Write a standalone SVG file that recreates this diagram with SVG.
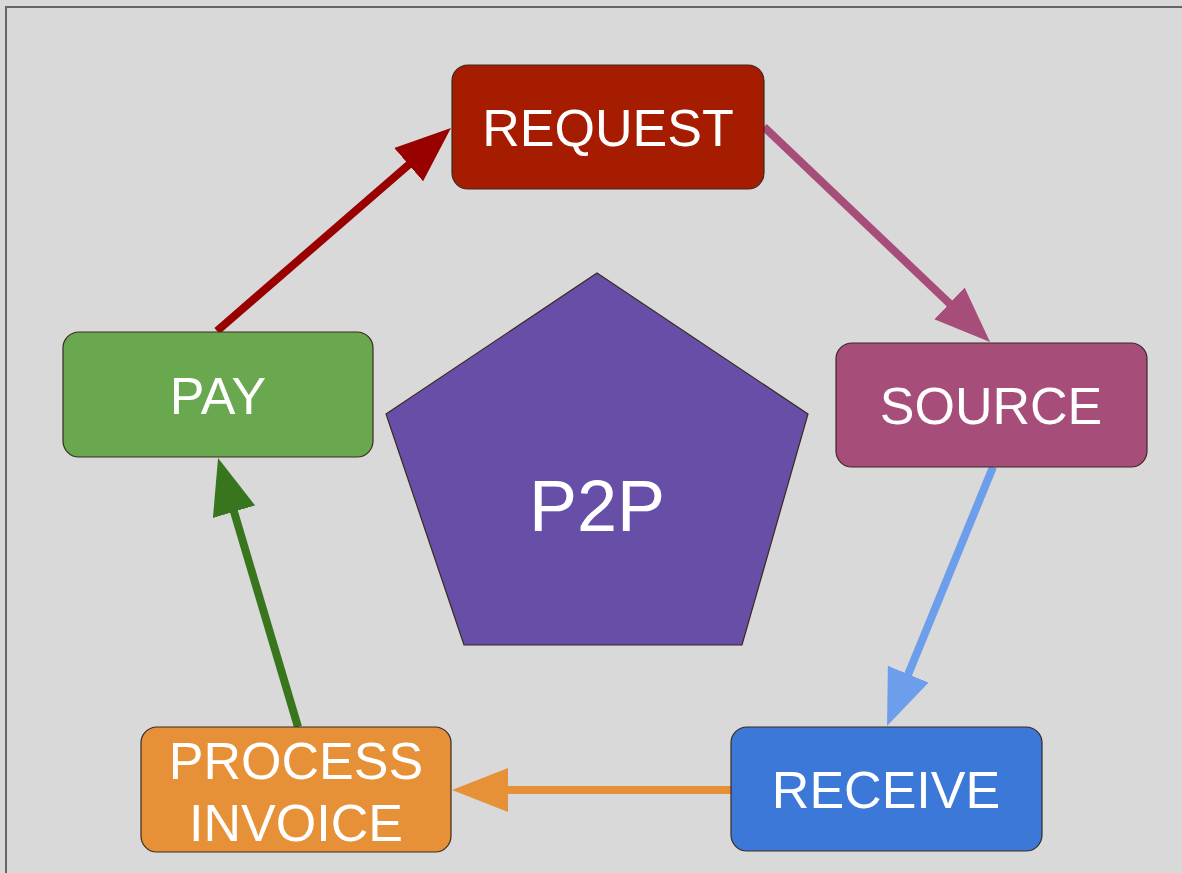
<svg xmlns="http://www.w3.org/2000/svg" width="1182" height="873" viewBox="0 0 1182 873">
<defs>
<style>
.node{stroke:#3a2a20;stroke-width:1.2}
.lbl{font-family:"Liberation Sans",Arial,sans-serif;font-size:52px;fill:#ffffff;text-anchor:middle}
.con{fill:none;stroke-width:8}
</style>
<marker id="mRed" markerUnits="userSpaceOnUse" markerWidth="58" markerHeight="48" refX="26" refY="24" orient="auto"><path d="M0,2 L56,24 L0,46 Z" fill="#990000"/></marker>
<marker id="mPink" markerUnits="userSpaceOnUse" markerWidth="58" markerHeight="48" refX="26" refY="24" orient="auto"><path d="M0,2 L56,24 L0,46 Z" fill="#a64d79"/></marker>
<marker id="mBlue" markerUnits="userSpaceOnUse" markerWidth="58" markerHeight="48" refX="26" refY="24" orient="auto"><path d="M0,2 L56,24 L0,46 Z" fill="#6d9eeb"/></marker>
<marker id="mOrange" markerUnits="userSpaceOnUse" markerWidth="58" markerHeight="48" refX="26" refY="24" orient="auto"><path d="M0,2 L56,24 L0,46 Z" fill="#e69138"/></marker>
<marker id="mGreen" markerUnits="userSpaceOnUse" markerWidth="58" markerHeight="48" refX="26" refY="24" orient="auto"><path d="M0,2 L56,24 L0,46 Z" fill="#38761d"/></marker>
</defs>
<rect x="0" y="0" width="1182" height="873" fill="#d9d9d9"/>
<path d="M6,873 L6,7 L1182,7" fill="none" stroke="#666666" stroke-width="2"/>
<g id="connectors">
<line class="con" x1="217" y1="331" x2="428.3" y2="147.7" stroke="#990000" marker-end="url(#mRed)"/>
<line class="con" x1="764" y1="127" x2="968.3" y2="321.3" stroke="#a64d79" marker-end="url(#mPink)"/>
<line class="con" x1="993" y1="467" x2="898.4" y2="698.2" stroke="#6d9eeb" marker-end="url(#mBlue)"/>
<line class="con" x1="731" y1="790" x2="482" y2="790" stroke="#e69138" marker-end="url(#mOrange)"/>
<line class="con" x1="298" y1="727" x2="226.6" y2="486.8" stroke="#38761d" marker-end="url(#mGreen)"/>
</g>
<g id="p2p">
<polygon class="node" points="597,273 808,414 742,645 464,645 386,414" fill="#674ea7" stroke="#2a1f45"/>
<text class="lbl" x="597" y="531" style="font-size:72px">P2P</text>
</g>
<g id="request">
<rect class="node" x="452" y="65" width="312" height="124" rx="16" fill="#a61c00"/>
<text class="lbl" x="608" y="146">REQUEST</text>
</g>
<g id="source">
<rect class="node" x="836" y="343" width="311" height="124" rx="16" fill="#a64d79"/>
<text class="lbl" x="991" y="424">SOURCE</text>
</g>
<g id="receive">
<rect class="node" x="731" y="727" width="311" height="124" rx="16" fill="#3c78d8"/>
<text class="lbl" x="886" y="808">RECEIVE</text>
</g>
<g id="process-invoice">
<rect class="node" x="141" y="727" width="310" height="125" rx="16" fill="#e69138"/>
<text class="lbl" x="296" y="779">PROCESS</text>
<text class="lbl" x="296" y="841">INVOICE</text>
</g>
<g id="pay">
<rect class="node" x="63" y="332" width="310" height="125" rx="16" fill="#6aa84f"/>
<text class="lbl" x="218" y="414">PAY</text>
</g>
</svg>
